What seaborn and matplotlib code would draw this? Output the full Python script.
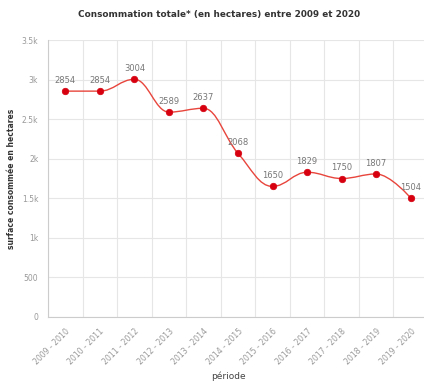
import numpy as np
import pandas as pd
import matplotlib
matplotlib.use("Agg")
import matplotlib.pyplot as plt
from matplotlib.path import Path
from matplotlib.patches import PathPatch
import seaborn as sns

periods = ["2009 - 2010", "2010 - 2011", "2011 - 2012", "2012 - 2013", "2013 - 2014",
           "2014 - 2015", "2015 - 2016", "2016 - 2017", "2017 - 2018", "2018 - 2019",
           "2019 - 2020"]
values = [2854, 2854, 3004, 2589, 2637, 2068, 1650, 1829, 1750, 1807, 1504]
ytick_vals = [0, 500, 1000, 1500, 2000, 2500, 3000, 3500]
ytick_labels = ["0", "500", "1k", "1.5k", "2k", "2.5k", "3k", "3.5k"]

title = "Consommation totale* (en hectares) entre 2009 et 2020"
xlabel = "période"
ylabel = "surface consommée en hectares"

df = pd.DataFrame({"x": np.arange(len(periods)), "periode": periods, "valeur": values})

sns.set_theme(style="white")
plt.rcParams['font.family'] = ['DejaVu Sans']

fig = plt.figure(figsize=(4.24, 3.83), dpi=100)
ax = fig.add_axes([48/424, 1-317/383, 380/424, (317-40)/383])

# Highcharts-like spline path
def spline_path(xs, ys, smoothing=1.5):
    n = len(xs)
    denom = smoothing + 1
    lc = [(xs[i], ys[i]) for i in range(n)]
    rc = [(xs[i], ys[i]) for i in range(n)]
    for i in range(1, n - 1):
        px, py = xs[i], ys[i]
        lx, ly = xs[i-1], ys[i-1]
        nx, ny = xs[i+1], ys[i+1]
        lcx = (smoothing*px + lx)/denom
        lcy = (smoothing*py + ly)/denom
        rcx = (smoothing*px + nx)/denom
        rcy = (smoothing*py + ny)/denom
        if rcx != lcx:
            corr = ((rcy - lcy)*(rcx - px))/(rcx - lcx) + py - rcy
            lcy += corr
            rcy += corr
        if lcy > max(ly, py):
            lcy = max(ly, py); rcy = 2*py - lcy
        elif lcy < min(ly, py):
            lcy = min(ly, py); rcy = 2*py - lcy
        if rcy > max(ny, py):
            rcy = max(ny, py); lcy = 2*py - rcy
        elif rcy < min(ny, py):
            rcy = min(ny, py); lcy = 2*py - rcy
        lc[i] = (lcx, lcy)
        rc[i] = (rcx, rcy)
    verts = [(xs[0], ys[0])]
    codes = [Path.MOVETO]
    for i in range(1, n):
        verts += [rc[i-1], lc[i], (xs[i], ys[i])]
        codes += [Path.CURVE4]*3
    return Path(verts, codes)

path = spline_path(list(df["x"].astype(float)), list(df["valeur"].astype(float)))
ax.add_patch(PathPatch(path, facecolor="none", edgecolor="#e8453c", lw=1.0, zorder=3))

sns.scatterplot(data=df, x="x", y="valeur", ax=ax, color="#d7000f", s=22,
                edgecolor="#d7000f", linewidth=0.5, zorder=4, legend=False)

for xi, v in zip(df["x"], df["valeur"]):
    ax.annotate(str(v), (xi, v), xytext=(0, 4.5), textcoords="offset points",
                ha="center", va="bottom", fontsize=6, color="#777777", zorder=5)

ax.set_xlim(-0.5, len(periods) - 0.5)
ax.set_ylim(0, 3500)
ax.set_yticks(ytick_vals)
ax.set_yticklabels(ytick_labels)
ax.set_xticks(np.arange(len(periods)))
ax.set_xticklabels(periods, rotation=45, ha="right", rotation_mode="anchor")
ax.set_xticks(np.arange(len(periods)+1) - 0.5, minor=True)
ax.tick_params(axis="x", which="major", length=0, labelsize=5.6, colors="#999999", pad=7)
ax.tick_params(axis="x", which="minor", length=0)
ax.tick_params(axis="y", length=0, labelsize=5.5, colors="#999999", pad=7)

ax.grid(False)
ax.grid(axis="y", which="major", color="#e6e6e6", lw=0.8)
ax.grid(axis="x", which="minor", color="#e6e6e6", lw=0.8)
for s in ["top", "right"]:
    ax.spines[s].set_visible(False)
ax.spines["left"].set_color("#cccccc")
ax.spines["left"].set_linewidth(0.8)
ax.spines["bottom"].set_color("#cccccc")
ax.spines["bottom"].set_linewidth(0.8)

ax.set_xlabel(xlabel, fontsize=6.5, color="#444444")
ax.xaxis.set_label_coords((228-48)/380, -(376-317)/277)
ax.xaxis.label.set_va("center")
ax.set_ylabel(ylabel, fontsize=5.5, color="#333333", fontweight="semibold")
ax.yaxis.set_label_coords(-(48-12)/380, 0.5)
ax.yaxis.label.set_va("center")
fig.text(219/424, 1-14/383, title, ha="center", va="center", fontsize=6.4,
         color="#333333", fontweight="semibold")

fig.savefig("out.png", dpi=100)
